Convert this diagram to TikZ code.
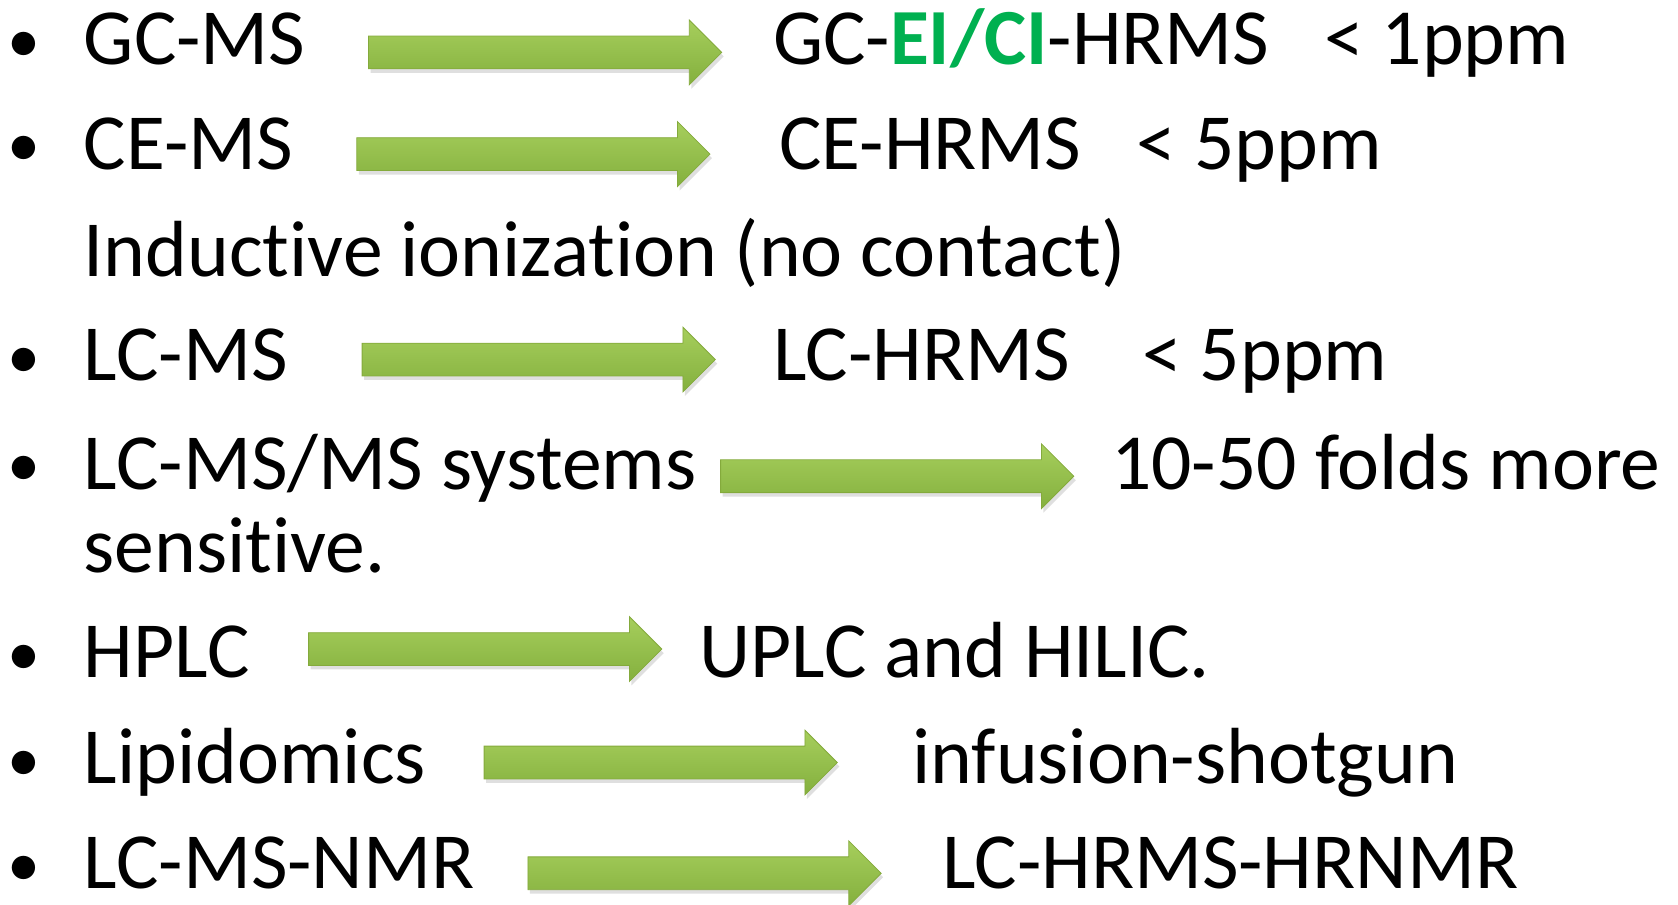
\documentclass[tikz,border=0pt]{standalone}
\usepackage{fontspec}
\setmainfont{Carlito}[Ligatures=NoCommon]
\usetikzlibrary{shapes.arrows, shadows}

\definecolor{eigreen}{HTML}{00B050}
\definecolor{arrowtop}{RGB}{166,206,92}
\definecolor{arrowmid}{RGB}{208,234,158}
\definecolor{arrowbot}{RGB}{132,176,62}
\definecolor{arrowedge}{RGB}{132,170,60}

\tikzset{
  item/.style = {anchor=base west, inner sep=0pt, font=\fontsize{39.8pt}{46pt}\selectfont},
  dot/.style = {anchor=base, inner sep=0pt, font=\fontsize{33pt}{40pt}\selectfont},
  greenarrow/.style = {single arrow, anchor=tail, inner xsep=0pt, inner ysep=8pt,
    minimum height=176.6pt, minimum width=32.1pt,
    single arrow head extend=8pt, single arrow tip angle=90,
    shading=axis, top color=arrowtop, middle color=arrowmid, bottom color=arrowbot,
    draw=arrowedge, line width=0.4pt,
    drop shadow={opacity=0.25, shadow xshift=1pt, shadow yshift=-2pt}}
}

\begin{document}
\begin{tikzpicture}[x=0.5351pt, y=-0.5351pt]
\useasboundingbox (0,0) rectangle (1568,845);

% bullets
\foreach \b in {58, 156, 354, 455, 631, 730, 828}
  \node[dot] at (22, \b) {•};

% GC-MS
\node[item] (gcms) at (78, 60) {GC-MS};
\node[greenarrow] (arr1) at (344, 49) {};
\node[item] (gchrms) at (722, 60) {GC-\textcolor{eigreen}{\textbf{EI/CI}}-HRMS};
\node[item] (gcppm) at (1237, 60) {< 1ppm};

% CE-MS
\node[item] (cems) at (78, 158) {CE-MS};
\node[greenarrow] (arr2) at (333, 144) {};
\node[item] (cehrms) at (728, 158) {CE-HRMS};
\node[item] (ceppm) at (1062, 158) {< 5ppm};
\node[item] (induct) at (78, 258) {Inductive ionization (no contact)};

% LC-MS
\node[item] (lcms) at (78, 356) {LC-MS};
\node[greenarrow] (arr3) at (338, 336) {};
\node[item] (lchrms) at (722, 356) {LC-HRMS};
\node[item] (lcppm) at (1067, 356) {< 5ppm};

% LC-MS/MS
\node[item] (msms) at (78, 457) {LC-MS/MS systems};
\node[greenarrow] (arr4) at (673, 445) {};
\node[item] (folds) at (1038, 457) {10-50 folds more};
\node[item] (sens) at (78, 535) {sensitive.};

% HPLC
\node[item] (hplc) at (78, 633) {HPLC};
\node[greenarrow] (arr5) at (288, 606.5) {};
\node[item] (uplc) at (653, 633) {UPLC and HILIC.};

% Lipidomics
\node[item] (lipid) at (78, 732) {Lipidomics};
\node[greenarrow] (arr6) at (452, 712.5) {};
\node[item] (shotgun) at (852, 732) {infusion-shotgun};

% LC-MS-NMR
\node[item] (lcnmr) at (78, 830) {LC-MS-NMR};
\node[greenarrow] (arr7) at (493, 816) {};
\node[item] (hrnmr) at (880, 830) {LC-HRMS-HRNMR};
\end{tikzpicture}
\end{document}
